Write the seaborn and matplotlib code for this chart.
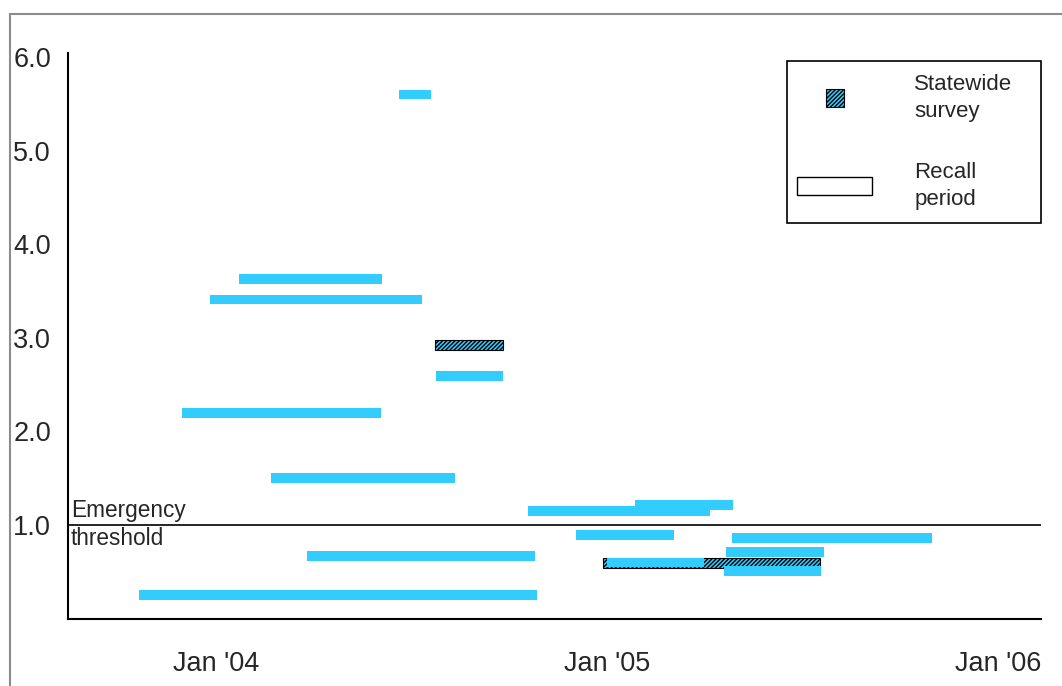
import matplotlib
matplotlib.use('Agg')
import matplotlib.pyplot as plt
import matplotlib.dates as mdates
from matplotlib.patches import Patch, Rectangle
from matplotlib.legend_handler import HandlerPatch
import seaborn as sns
import pandas as pd

# Recall periods (light blue bars)
recall_start = ['2004-06-20', '2004-01-23', '2003-12-27', '2004-07-25', '2003-11-30',
                '2004-02-22', '2005-01-27', '2004-10-19', '2004-12-03', '2005-04-27',
                '2005-04-22', '2004-03-26', '2005-01-01', '2005-04-20', '2003-10-21']
recall_end = ['2004-07-20', '2004-06-04', '2004-07-12', '2004-09-25', '2004-06-03',
              '2004-08-12', '2005-04-28', '2005-04-07', '2005-03-04', '2005-10-31',
              '2005-07-22', '2004-10-25', '2005-04-01', '2005-07-20', '2004-10-27']
recall_values = [5.60, 3.63, 3.41, 2.59, 2.20, 1.50, 1.21, 1.15, 0.89, 0.86,
                 0.71, 0.67, 0.60, 0.51, 0.25]

# Statewide surveys (hatched bars)
survey_start = ['2004-07-24', '2004-12-28']
survey_end = ['2004-09-25', '2005-07-19']
survey_values = [2.92, 0.59]

y_ticks = [1, 2, 3, 4, 5, 6]
y_labels = ['1.0', '2.0', '3.0', '4.0', '5.0', '6.0']
x_ticks = ['2004-01-01', '2005-01-01', '2006-01-01']

recall = pd.DataFrame({'start': pd.to_datetime(recall_start),
                       'end': pd.to_datetime(recall_end),
                       'value': recall_values})
survey = pd.DataFrame({'start': pd.to_datetime(survey_start),
                       'end': pd.to_datetime(survey_end),
                       'value': survey_values})

sns.set_style('white')
plt.rcParams['font.family'] = ['Liberation Sans', 'DejaVu Sans']
plt.rcParams['hatch.linewidth'] = 1.0

BLUE = '#33CCFF'
BAR_H = 0.104

fig = plt.figure(figsize=(10.62, 6.86), dpi=100)
ax = fig.add_axes([0.0636, 0.0983, 0.9162, 0.8244])


def to_num(s):
    return mdates.date2num(s.dt.to_pydatetime())


ax.barh(survey['value'], to_num(survey['end']) - to_num(survey['start']),
        left=to_num(survey['start']), height=BAR_H, color=BLUE,
        edgecolor='black', hatch='////////', linewidth=0.8, zorder=2)
ax.barh(recall['value'], to_num(recall['end']) - to_num(recall['start']),
        left=to_num(recall['start']), height=BAR_H, color=BLUE,
        linewidth=0, zorder=3)

ax.axhline(1.0, color='black', lw=1.2, zorder=4)
ax.annotate('Emergency', xy=(0, 1), xycoords=('axes fraction', 'data'),
            xytext=(2.5, 5.5), textcoords='offset points', va='baseline',
            fontsize=16.3)
ax.annotate('threshold', xy=(0, 1), xycoords=('axes fraction', 'data'),
            xytext=(2.5, -14.4), textcoords='offset points', va='baseline',
            fontsize=16.3)

ax.set_ylim(0, 6.043)
ax.set_xlim(mdates.date2num(pd.Timestamp('2003-08-15 12:00')),
            mdates.date2num(pd.Timestamp('2006-02-09 17:00')))
ax.set_yticks(y_ticks)
ax.set_yticklabels(y_labels)
ax.set_xticks(mdates.date2num(pd.to_datetime(x_ticks).to_pydatetime()))
ax.xaxis.set_major_formatter(mdates.DateFormatter("%b '%y"))
ax.tick_params(axis='y', length=0, pad=12, labelsize=19.5)
ax.tick_params(axis='x', length=0, pad=23, labelsize=19.5)

sns.despine(ax=ax)
for side in ['left', 'bottom']:
    ax.spines[side].set_color('black')
    ax.spines[side].set_linewidth(1.5)


def square_patch(legend, orig_handle, xdescent, ydescent, width, height, fontsize):
    s = 13.0
    return Rectangle((-xdescent + width / 2 - s / 2, -ydescent + height / 2 - s / 2), s, s)


# legend frame
ax.add_patch(Rectangle((0.7395, 0.6994), 0.2605, 0.2866, transform=ax.transAxes,
                       facecolor='white', edgecolor='black', lw=1.2, zorder=5,
                       clip_on=False))

h_survey = Patch(facecolor=BLUE, edgecolor='black', hatch='////////', linewidth=0.8)
h_recall = Patch(facecolor='white', edgecolor='black', linewidth=1.0)
leg = ax.legend([h_survey, h_recall], ['Statewide\nsurvey', 'Recall\nperiod'],
                handler_map={h_survey: HandlerPatch(patch_func=square_patch)},
                loc='upper left', bbox_to_anchor=(0.7395, 0.9807),
                borderaxespad=0, fontsize=16, frameon=False,
                handlelength=3.38, handleheight=0.86, handletextpad=1.9,
                borderpad=0.45, labelspacing=1.77)
leg.set_zorder(6)
for t in leg.get_texts():
    t.set_linespacing(1.4)

# grey outer border
fig.patches.append(Rectangle((9.5 / 1062, -0.1), 1.2, 1 - 13.5 / 686 + 0.1,
                             transform=fig.transFigure, fill=False,
                             edgecolor='#8c8c8c', lw=1.5))

fig.savefig('out.png', dpi=100)
